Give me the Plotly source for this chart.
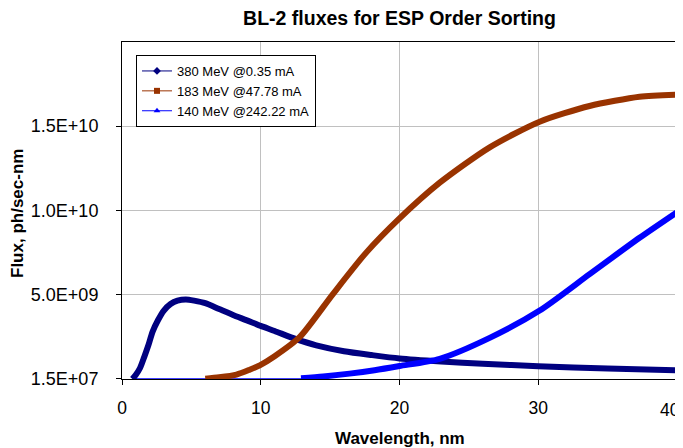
import plotly.graph_objects as go

# ---- data (flux in ph/sec-nm, wavelength in nm) ----
wl_380 = [0.75, 1.0, 1.3, 1.6, 1.9, 2.2, 2.6, 3.0, 3.5, 4.0, 4.6, 5.2, 6.0, 7.0, 8.0,
          9.0, 10.0, 11.0, 12.5, 14.0, 16.0, 18.0, 20.0, 23.0, 26.0, 30.0, 35.0, 40.0]
flux_380 = [0.0, 0.25e9, 0.65e9, 1.3e9, 2.0e9, 2.8e9, 3.5e9, 4.05e9, 4.45e9, 4.65e9, 4.72e9,
            4.65e9, 4.5e9, 4.15e9, 3.8e9, 3.48e9, 3.15e9, 2.85e9, 2.38e9, 2.0e9, 1.65e9,
            1.42e9, 1.22e9, 1.04e9, 0.9e9, 0.76e9, 0.62e9, 0.51e9]

wl_183 = [6.0, 7.0, 8.25, 9.2, 9.93, 11.0, 12.8, 15.2, 17.6, 20.0, 22.9, 26.5, 30.1, 33.7, 37.3, 40.0]
flux_183 = [0.02e9, 0.1e9, 0.26e9, 0.55e9, 0.81e9, 1.35e9, 2.48e9, 5.04e9, 7.5e9, 9.53e9,
            11.65e9, 13.75e9, 15.27e9, 16.2e9, 16.75e9, 16.88e9]

wl_140_zero = [0.75, 12.9]
flux_140_zero = [0.0, 0.0]
wl_140 = [12.9, 14.5, 16.4, 18.2, 20.0, 22.9, 26.5, 30.1, 33.7, 37.3, 40.0]
flux_140 = [0.05e9, 0.15e9, 0.32e9, 0.52e9, 0.77e9, 1.2e9, 2.44e9, 4.06e9, 6.22e9, 8.38e9, 9.9e9]

names = ["380 MeV @0.35 mA", "183 MeV @47.78 mA", "140 MeV @242.22 mA"]
colors = ["#000080", "#993300", "#0000FF"]
symbols = ["diamond", "square", "triangle-up"]

y_min = 1.5e7
y_step = 5e9
y_tick_vals = [y_min + k * y_step for k in range(4)]
y_tick_text = ["1.5E+07", "5.0E+09", "1.0E+10", "1.5E+10"]
x_tick_vals = [0, 10, 20, 30, 40]
x_tick_text = ["0", "10", "20", "30", "40"]

FONT = "Liberation Sans, Arial, sans-serif"

# page body has an 8px default margin, so the figure is offset by 8px in the window
W, H = 683, 448
PL, PR, PT, PB = 114, 669, 34, 371   # plot area in figure pixels

fig = go.Figure()

series = [(wl_380, flux_380), (wl_183, flux_183), (wl_140, flux_140)]
fig.add_trace(go.Scatter(x=wl_140_zero, y=flux_140_zero, mode="lines",
                         line=dict(color=colors[2], width=1.5), showlegend=False,
                         hoverinfo="skip"))
for (xs, ys), c in zip(series, colors):
    fig.add_trace(go.Scatter(x=xs, y=ys, mode="lines",
                             line=dict(color=c, width=6, shape="spline", smoothing=0.7),
                             showlegend=False))
# legend entries
for n, c, s in zip(names, colors, symbols):
    fig.add_trace(go.Scatter(x=[None], y=[None], mode="lines+markers", name=n,
                             line=dict(color=c, width=1),
                             marker=dict(color=c, symbol=s, size=6)))

pw, ph = PR - PL, PB - PT
fig.update_layout(
    width=W, height=H,
    margin=dict(l=PL, r=W - PR, t=PT, b=H - PB, autoexpand=False),
    paper_bgcolor="white", plot_bgcolor="white",
    font=dict(family=FONT, color="black"),
    title=dict(text="<b>BL-2 fluxes for ESP Order Sorting</b>", x=0.5, xref="paper",
               y=1 - 10.5 / H, yanchor="middle", yref="container",
               font=dict(size=19.5, family=FONT, color="black")),
    legend=dict(x=(128 - PL) / pw, y=(PB - 47) / ph, xanchor="left", yanchor="top",
                bgcolor="white", bordercolor="black", borderwidth=1,
                font=dict(size=13, family=FONT), tracegroupgap=0,
                itemwidth=30),
    showlegend=True,
)
# last tick label is nudged inward (as in the original) so it stays inside the window
shown_text = x_tick_text[:-1] + [""]
fig.update_xaxes(range=[0, 40], tickvals=x_tick_vals, ticktext=shown_text,
                 ticks="outside", ticklen=5,
                 tickcolor="black", showline=True, linecolor="black", linewidth=1,
                 mirror=True, showgrid=True, gridcolor="#C0C0C0", gridwidth=1,
                 zeroline=False, tickfont=dict(size=17.5, family=FONT),
                 ticklabelstandoff=8)
fig.add_annotation(text=x_tick_text[-1], x=x_tick_vals[-1], xref="x", yref="paper",
                   y=0, yanchor="top", xanchor="right", xshift=5, yshift=-19,
                   showarrow=False, font=dict(size=17.5, family=FONT))
fig.update_yaxes(range=[0, 2.0e10], tickvals=y_tick_vals, ticktext=y_tick_text,
                 ticks="outside", ticklen=5, tickcolor="black",
                 showline=True, linecolor="black", linewidth=1, mirror=True,
                 showgrid=True, gridcolor="#C0C0C0", gridwidth=1, zeroline=False,
                 tickfont=dict(size=18, family=FONT), ticklabelstandoff=14)

fig.add_annotation(text="<b>Wavelength, nm</b>", xref="paper", yref="paper",
                   x=0.5, y=(PB - 430) / ph, yanchor="middle", showarrow=False,
                   font=dict(size=17, family=FONT))
fig.add_annotation(text="<b>Flux, ph/sec-nm</b>", xref="paper", yref="paper",
                   x=(9 - PL) / pw, y=(PB - 206) / ph, xanchor="center", yanchor="middle",
                   textangle=-90, showarrow=False, font=dict(size=17, family=FONT))

fig.write_html("out.html")
